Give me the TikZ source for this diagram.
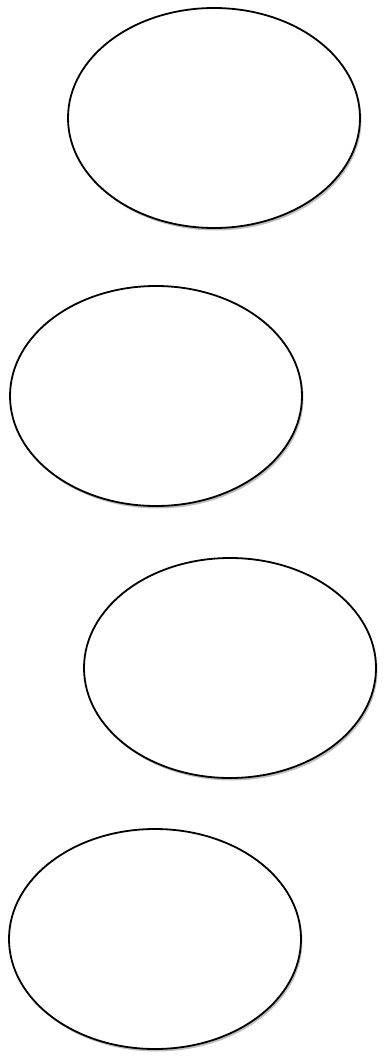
\documentclass[tikz,border=0pt]{standalone}
\usetikzlibrary{shadows}
\begin{document}
\begin{tikzpicture}[x=1pt,y=-1pt,
  oval/.style={draw=black,line width=1.8pt,fill=white,
    drop shadow={shadow xshift=1.5pt,shadow yshift=-2.5pt,opacity=0.5}}]
\useasboundingbox (0,0) rectangle (383,1057);
\path[oval] (214,118) ellipse [x radius=146,y radius=110] coordinate (e1);
\path[oval] (156,396) ellipse [x radius=146,y radius=110] coordinate (e2);
\path[oval] (230,668) ellipse [x radius=146,y radius=110] coordinate (e3);
\path[oval] (155,939) ellipse [x radius=146,y radius=110] coordinate (e4);
\end{tikzpicture}
\end{document}
